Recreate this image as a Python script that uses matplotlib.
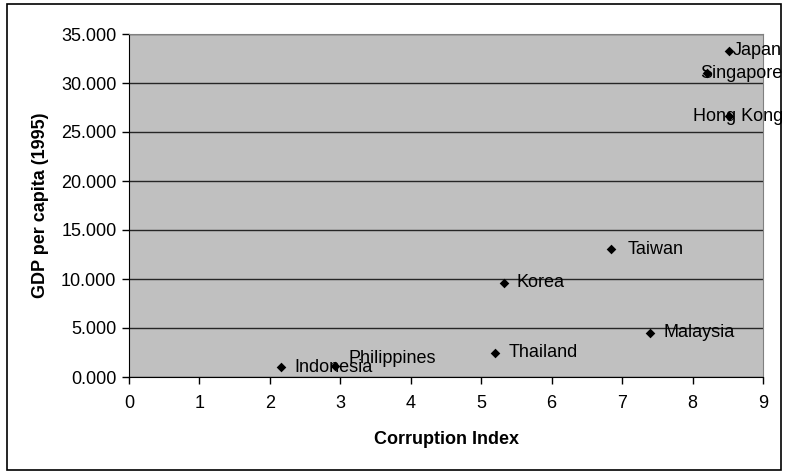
import matplotlib
matplotlib.use("Agg")
import matplotlib.pyplot as plt
from matplotlib.patches import Rectangle
from matplotlib.ticker import FormatStrFormatter, MultipleLocator

# Corruption index vs. GDP per capita (thousands, 1995)
countries = ["Japan", "Singapore", "Hong Kong", "Taiwan", "Korea",
             "Malaysia", "Thailand", "Indonesia", "Philippines"]
corruption = [8.52, 8.20, 8.52, 6.84, 5.32, 7.39, 5.20, 2.16, 2.92]
gdp = [33.3, 31.0, 26.6, 13.1, 9.6, 4.5, 2.5, 1.0, 1.15]

# label offsets in pixels (x, y)
label_pos = {
    "Japan": (4, 0), "Singapore": (-6, 0), "Hong Kong": (-36, 0),
    "Taiwan": (17, -1), "Korea": (13, 0), "Malaysia": (14, 0),
    "Thailand": (13, 0), "Indonesia": (13, 0), "Philippines": (14, 7),
}

plt.rcParams["font.family"] = ["Liberation Sans", "DejaVu Sans"]
FS = 13

W, H = 785, 472
fig = plt.figure(figsize=(W / 100, H / 100), dpi=100)
ax = fig.add_axes([129 / W, 1 - 377 / H, (763 - 129) / W, (377 - 34) / H])

# outer chart frame
fig.patches.append(Rectangle((7 / W, 2 / H), (781 - 7) / W, (468 - 2) / H,
                             transform=fig.transFigure, fill=False,
                             edgecolor="black", lw=1.2))

ax.set_facecolor("#c0c0c0")
ax.scatter(corruption, gdp, marker="D", s=24, color="black", zorder=3,
           linewidths=0)
for name, x, y in zip(countries, corruption, gdp):
    dx, dy = label_pos[name]
    ax.annotate(name, (x, y), xytext=(dx, dy), textcoords="offset pixels",
                ha="left", va="center", fontsize=FS, color="black",
                zorder=4)

ax.set_xlim(0, 9)
ax.set_ylim(0, 35)
ax.xaxis.set_major_locator(MultipleLocator(1))
ax.yaxis.set_major_locator(MultipleLocator(5))
ax.yaxis.set_major_formatter(FormatStrFormatter("%.3f"))
ax.grid(axis="y", color="black", lw=1.0, alpha=0.8)
ax.set_axisbelow(True)

for side in ("top", "right"):
    ax.spines[side].set_color("#808080")
for side in ("left", "bottom"):
    ax.spines[side].set_color("black")
ax.tick_params(direction="out", length=5, width=1, labelsize=FS,
               colors="black", pad=4)
ax.tick_params(axis="x", pad=8)

ax.set_xlabel("Corruption Index", fontsize=FS, fontweight="bold", labelpad=14)
ax.set_ylabel("GDP per capita (1995)", fontsize=FS, fontweight="bold",
              labelpad=9)

fig.savefig("out.png", dpi=100)
